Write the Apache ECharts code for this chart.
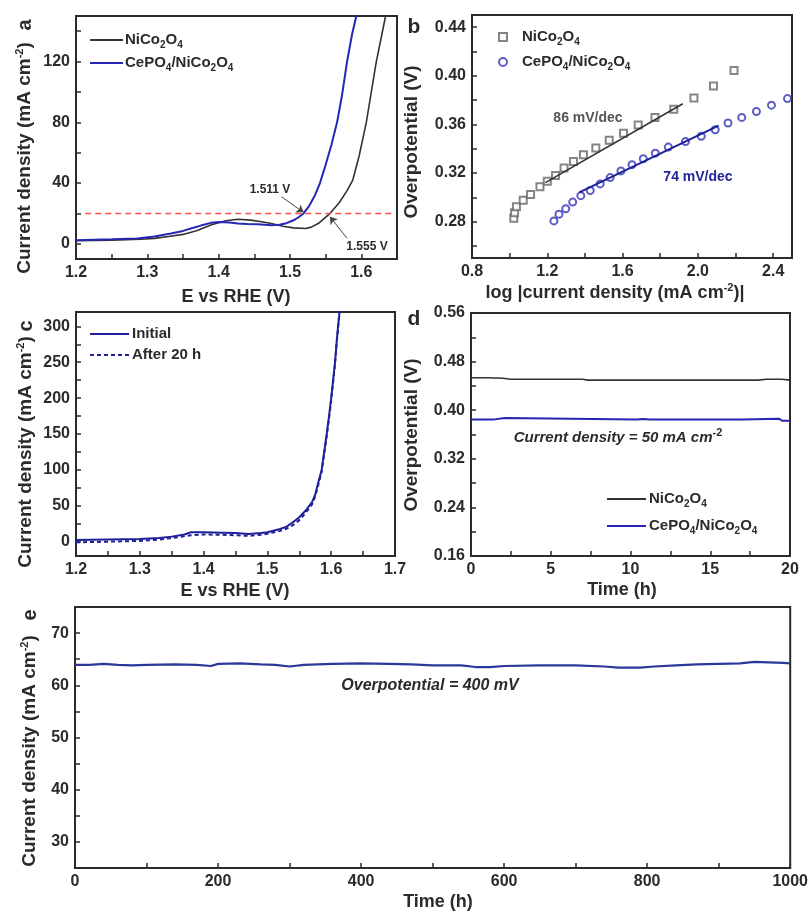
<!DOCTYPE html>
<html><head><meta charset="utf-8">
<script src="https://cdn.jsdelivr.net/npm/echarts@6/dist/echarts.min.js"></script>
<style>html,body{margin:0;padding:0;background:#fff}#c{width:811px;height:914px}</style>
</head><body><div id="c"></div><script>
// ---------- Panel a: LSV curves ----------
const aNiCo = [[1.20,2.0],[1.25,2.4],[1.29,3.0],[1.31,3.6],[1.33,4.8],[1.35,6.2],[1.37,8.8],[1.39,12.5],[1.41,15.2],[1.427,16.2],[1.445,15.6],[1.46,14.5],[1.474,13.4],[1.49,11.6],[1.505,10.5],[1.522,10.1],[1.53,11.0],[1.54,13.5],[1.555,19.5],[1.569,27],[1.58,35],[1.588,42],[1.597,58],[1.607,80],[1.614,100],[1.621,120],[1.628,136],[1.634,150],[1.64,165]];
const aCePO = [[1.20,2.4],[1.25,3.0],[1.286,3.5],[1.31,4.8],[1.333,6.8],[1.35,8.5],[1.361,10.1],[1.375,12.0],[1.389,13.8],[1.401,14.3],[1.415,14.0],[1.427,13.4],[1.44,13.0],[1.455,12.8],[1.474,12.3],[1.485,12.6],[1.495,13.6],[1.505,15.5],[1.512,17.5],[1.519,20],[1.527,25],[1.535,32],[1.542,40],[1.55,52],[1.558,65],[1.566,80],[1.573,98],[1.58,120],[1.587,138],[1.593,150],[1.598,165]];
const aRefLevel = [[1.213,20],[1.645,20]];
const aArrows = [[[1.488,31],[1.519,20.7]],[[1.580,3.6],[1.556,17.8]]];
const aXTicks = [1.2,1.25,1.3,1.35,1.4,1.45,1.5,1.55,1.6,1.65];
const aXLabels = [1.2,1.3,1.4,1.5,1.6];
const aYTicks = [0,20,40,60,80,100,120,140];
const aYLabels = [0,40,80,120];

// ---------- Panel b: Tafel plots ----------
const bNiCo = [[1.022,0.2827],[1.026,0.2873],[1.036,0.2922],[1.072,0.2976],[1.111,0.3023],[1.161,0.3086],[1.200,0.3131],[1.244,0.3180],[1.289,0.3241],[1.339,0.3295],[1.392,0.3349],[1.458,0.3406],[1.529,0.3469],[1.605,0.3526],[1.683,0.3594],[1.772,0.3657],[1.872,0.3725],[1.979,0.3817],[2.083,0.3915],[2.192,0.4043]];
const bCePO = [[1.235,0.2805],[1.262,0.2860],[1.298,0.2905],[1.335,0.2960],[1.378,0.3013],[1.428,0.3056],[1.481,0.3110],[1.534,0.3162],[1.591,0.3217],[1.650,0.3268],[1.710,0.3317],[1.774,0.3363],[1.843,0.3413],[1.934,0.3458],[2.018,0.3502],[2.092,0.3556],[2.160,0.3611],[2.233,0.3657],[2.311,0.3706],[2.391,0.3758],[2.476,0.3812]];
const bNiFit = [[1.19,0.312],[1.92,0.377]];
const bCeFit = [[1.37,0.304],[2.11,0.359]];
const bXTicks = [0.8,1.0,1.2,1.4,1.6,1.8,2.0,2.2,2.4];
const bXLabels = [0.8,1.2,1.6,2.0,2.4];
const bYTicks = [0.26,0.28,0.30,0.32,0.34,0.36,0.38,0.40,0.42,0.44];
const bYLabels = [0.28,0.32,0.36,0.40,0.44];

// ---------- Panel c: LSV before/after ----------
const cInitial = [[1.20,2.4],[1.25,3.0],[1.30,3.7],[1.33,5],[1.35,7],[1.37,10],[1.38,13],[1.40,13],[1.43,12.5],[1.45,12],[1.47,10.7],[1.49,12],[1.50,13],[1.52,17.7],[1.53,21],[1.54,27],[1.55,34],[1.56,43.4],[1.57,55],[1.575,66],[1.58,83],[1.585,100],[1.589,125],[1.593,150],[1.597,178],[1.60,200],[1.603,225],[1.606,250],[1.609,283],[1.613,320],[1.616,345]];
const cAfter = [[1.20,-1],[1.25,0],[1.30,1],[1.33,3],[1.35,5],[1.37,7.5],[1.38,9],[1.40,10],[1.43,9.5],[1.45,9],[1.47,8],[1.49,9.5],[1.50,11],[1.52,15],[1.53,18],[1.54,23],[1.55,30],[1.56,40],[1.57,52],[1.575,63],[1.58,80],[1.585,97],[1.589,122],[1.593,147],[1.597,175],[1.60,197],[1.603,222],[1.606,248],[1.609,281],[1.613,320],[1.616,345]];
const cXTicks = [1.2,1.25,1.3,1.35,1.4,1.45,1.5,1.55,1.6,1.65,1.7];
const cXLabels = [1.2,1.3,1.4,1.5,1.6,1.7];
const cYTicks = [0,25,50,75,100,125,150,175,200,225,250,275,300];
const cYLabels = [0,50,100,150,200,250,300];

// ---------- Panel d: chronopotentiometry ----------
const dNiCo = [[0,0.4535],[1,0.4535],[2,0.4525],[2.5,0.451],[5,0.451],[7,0.451],[7.3,0.4495],[10,0.4495],[15,0.4495],[18,0.4495],[18.5,0.451],[19.5,0.451],[20,0.4495]];
const dCePO = [[0,0.3845],[1.4,0.3845],[1.5,0.387],[2.1,0.387],[2.2,0.3845],[10.4,0.3845],[10.5,0.383],[10.8,0.3855],[11.2,0.3845],[17,0.3845],[17.1,0.386],[19.3,0.386],[19.5,0.3828],[20,0.3828]];
const dXTicks = [0,2.5,5,7.5,10,12.5,15,17.5,20];
const dXLabels = [0,5,10,15,20];
const dYTicks = [0.16,0.20,0.24,0.28,0.32,0.36,0.40,0.44,0.48,0.52,0.56];
const dYLabels = [0.16,0.24,0.32,0.40,0.48,0.56];

// ---------- Panel e: long-term chronoamperometry ----------
const eCurrent = [[0,63.9],[20,63.9],[40,64.1],[60,63.9],[80,63.8],[100,63.9],[140,64.0],[170,63.9],[190,63.7],[200,64.1],[230,64.2],[260,64.0],[280,63.9],[300,63.6],[320,63.9],[360,64.1],[400,64.2],[440,64.1],[470,64.0],[500,63.8],[540,63.8],[560,63.5],[580,63.5],[600,63.7],[650,63.8],[700,63.8],[740,63.6],[760,63.4],[790,63.4],[810,63.6],[840,63.8],[870,64.0],[900,64.1],[930,64.2],[950,64.5],[970,64.4],[990,64.3],[1000,64.2]];
const eXTicks = [0,100,200,300,400,500,600,700,800,900,1000];
const eXLabels = [0,200,400,600,800,1000];
const eYTicks = [25,30,35,40,45,50,55,60,65,70,75];
const eYLabels = [30,40,50,60,70];

// ---------- styling ----------
const FONT = 'Liberation Sans, Arial, sans-serif';
const AX = '#2b2b2b';
const BLUE = '#2626b4';
const DBLUE = '#1f1f9a';
const BLACK = '#333333';

const chart = echarts.init(document.getElementById('c'), null, {renderer:'canvas'});

function axis(gi, min, max, ticks, labels, dec, extra) {
  return Object.assign({
    type:'value', gridIndex: gi, min: min, max: max,
    axisLine:{show:true, onZero:false, lineStyle:{color:AX, width:2}},
    axisTick:{show:true, inside:true, length:5, customValues:ticks, lineStyle:{color:AX, width:1.5}},
    axisLabel:{customValues:labels, formatter:(v)=>Number(v).toFixed(dec), color:'#2b2b2b', fontSize:16, fontWeight:'bold', fontFamily:FONT, margin:6},
    splitLine:{show:false}
  }, extra || {});
}

const gridStyle = {show:true, borderColor:AX, borderWidth:2, containLabel:false};
const grids = [
  Object.assign({left:76, top:16, width:321, height:243}, gridStyle),
  Object.assign({left:472, top:15, width:320, height:243}, gridStyle),
  Object.assign({left:76, top:312, width:319, height:244}, gridStyle),
  Object.assign({left:471, top:313, width:319, height:243}, gridStyle),
  Object.assign({left:75, top:607, width:716, height:261}, gridStyle)
];

const xAxes = [
  axis(0, 1.2, 1.65, aXTicks, aXLabels, 1),
  axis(1, 0.8, 2.5, bXTicks, bXLabels, 1),
  axis(2, 1.2, 1.7, cXTicks, cXLabels, 1),
  axis(3, 0, 20, dXTicks, dXLabels, 0),
  axis(4, 0, 1000, eXTicks, eXLabels, 0)
];
const yAxes = [
  axis(0, -10, 150, aYTicks, aYLabels, 0),
  axis(1, 0.25, 0.45, bYTicks, bYLabels, 2),
  axis(2, -20, 320, cYTicks, cYLabels, 0),
  axis(3, 0.16, 0.56, dYTicks, dYLabels, 2),
  axis(4, 25, 75, eYTicks, eYLabels, 0)
];

function lineSeries(name, gi, data, color, width, extra) {
  return Object.assign({
    name: name, type:'line', xAxisIndex:gi, yAxisIndex:gi, data:data,
    symbol:'none', showSymbol:false, smooth:false,
    lineStyle:{color:color, width:width}, itemStyle:{color:color}
  }, extra || {});
}

const series = [
  lineSeries('a_Ni', 0, aNiCo, BLACK, 1.6),
  lineSeries('a_Ce', 0, aCePO, BLUE, 2, {
    markLine:{silent:true, symbol:['none','arrow'], symbolSize:7, animation:false,
      lineStyle:{color:'#444', width:1, type:'solid'}, label:{show:false},
      data: aArrows.map(p => [{coord:p[0]},{coord:p[1]}])}
  }),
  lineSeries('a_ref', 0, aRefLevel, '#ff4f4f', 1.5, {lineStyle:{color:'#ff4f4f', width:1.5, type:[6,4]}}),
  {name:'b_Ni', type:'scatter', xAxisIndex:1, yAxisIndex:1, data:bNiCo, symbol:'emptyRect', symbolSize:7,
    itemStyle:{color:'#666', borderColor:'#666', borderWidth:1.2}},
  {name:'b_Ce', type:'scatter', xAxisIndex:1, yAxisIndex:1, data:bCePO, symbol:'emptyCircle', symbolSize:7,
    itemStyle:{color:'#3434b8', borderColor:'#3434b8', borderWidth:1.2}},
  lineSeries('b_NiFit', 1, bNiFit, BLACK, 1.6),
  lineSeries('b_CeFit', 1, bCeFit, DBLUE, 2),
  lineSeries('c_Init', 2, cInitial, DBLUE, 2),
  lineSeries('c_After', 2, cAfter, DBLUE, 2, {lineStyle:{color:DBLUE, width:2, type:[4,3]}}),
  lineSeries('d_Ni', 3, dNiCo, BLACK, 1.6),
  lineSeries('d_Ce', 3, dCePO, BLUE, 2),
  lineSeries('e_Ce', 4, eCurrent, '#2b3899', 2.2)
];

const legendNames = {
  a_Ni:'NiCo{s|2}O{s|4}', a_Ce:'CePO{s|4}/NiCo{s|2}O{s|4}',
  b_Ni:'NiCo{s|2}O{s|4}', b_Ce:'CePO{s|4}/NiCo{s|2}O{s|4}',
  c_Init:'Initial', c_After:'After 20 h',
  d_Ni:'NiCo{s|2}O{s|4}', d_Ce:'CePO{s|4}/NiCo{s|2}O{s|4}'
};
function legTxt(padLeft) {
  return {color:'#2b2b2b', fontSize:15, fontWeight:'bold', fontFamily:FONT, lineHeight:20, padding:[0,0,0,padLeft],
    rich:{s:{fontSize:10, fontWeight:'bold', fontFamily:FONT, verticalAlign:'bottom', lineHeight:10, color:'#2b2b2b'}}};
}
function legend(names, left, top, w, h, gap, extra, padLeft) {
  return Object.assign({
    data:names, left:left, top:top, orient:'vertical', padding:0, itemGap:gap,
    itemWidth:w, itemHeight:h, selectedMode:false,
    formatter:(n)=>legendNames[n], textStyle:legTxt(padLeft || 0)
  }, extra || {});
}
const hideSym = {itemStyle:{color:'transparent', borderColor:'transparent', borderWidth:0}};
const legends = [
  legend(['a_Ni','a_Ce'], 89, 30, 33, 12, 3, hideSym, -3),
  legend(['b_Ni','b_Ce'], 498, 27, 8, 8, 5, null, 10),
  legend(['c_Init','c_After'], 89, 324, 39, 12, 1, hideSym, -2),
  legend(['d_Ni','d_Ce'], 606, 489, 39, 12, 7, hideSym, -2)
];

const supRich = {p:{fontSize:11, fontWeight:'bold', fontFamily:FONT, verticalAlign:'top', lineHeight:11, fill:'#2b2b2b'}};
function rtext(x, y, text, size, rot, extra) {
  return {type:'text', x:x, y:y, rotation: rot ? Math.PI/2 : 0, silent:true,
    style:Object.assign({text:text, font:'bold ' + size + 'px ' + FONT, fill:'#2b2b2b', align:'center', verticalAlign:'middle', lineHeight:22, rich:supRich}, extra || {})};
}

const graphic = [
  // panel letters
  rtext(25, 25, 'a', 20, true),
  rtext(414, 27, 'b', 21, false),
  rtext(26, 326, 'c', 20, true),
  rtext(414, 319, 'd', 21, false),
  rtext(30, 615, 'e', 20, true),
  // y titles
  rtext(25, 158, 'Current density (mA cm{p|-2})', 19, true),
  rtext(412, 142, 'Overpotential (V)', 19, true),
  rtext(26, 452, 'Current density (mA cm{p|-2})', 19, true),
  rtext(412, 435, 'Overpotential (V)', 19, true),
  rtext(30, 751, 'Current density (mA cm{p|-2})', 19, true),
  // x titles
  rtext(236, 297, 'E vs RHE (V)', 18, false),
  rtext(615, 293, 'log |current density (mA cm{p|-2})|', 18, false),
  rtext(235, 591, 'E vs RHE (V)', 18, false),
  rtext(622, 590, 'Time (h)', 18, false),
  rtext(438, 902, 'Time (h)', 18, false),
  // annotations
  rtext(270, 190, '1.511 V', 12, false),
  rtext(367, 247, '1.555 V', 12, false),
  rtext(588, 118, '86 mV/dec', 14, false, {fill:'#555'}),
  rtext(698, 177, '74 mV/dec', 14, false, {fill:'#24249a'}),
  rtext(618, 438, 'Current density = 50 mA cm{p|-2}', 15, false, {font:'italic bold 15px ' + FONT}),
  rtext(430, 686, 'Overpotential = 400 mV', 16, false, {font:'italic bold 16px ' + FONT})
];

chart.setOption({
  animation:false,
  backgroundColor:'#fff',
  grid:grids, xAxis:xAxes, yAxis:yAxes, series:series, legend:legends, graphic:graphic
});
</script></body></html>
